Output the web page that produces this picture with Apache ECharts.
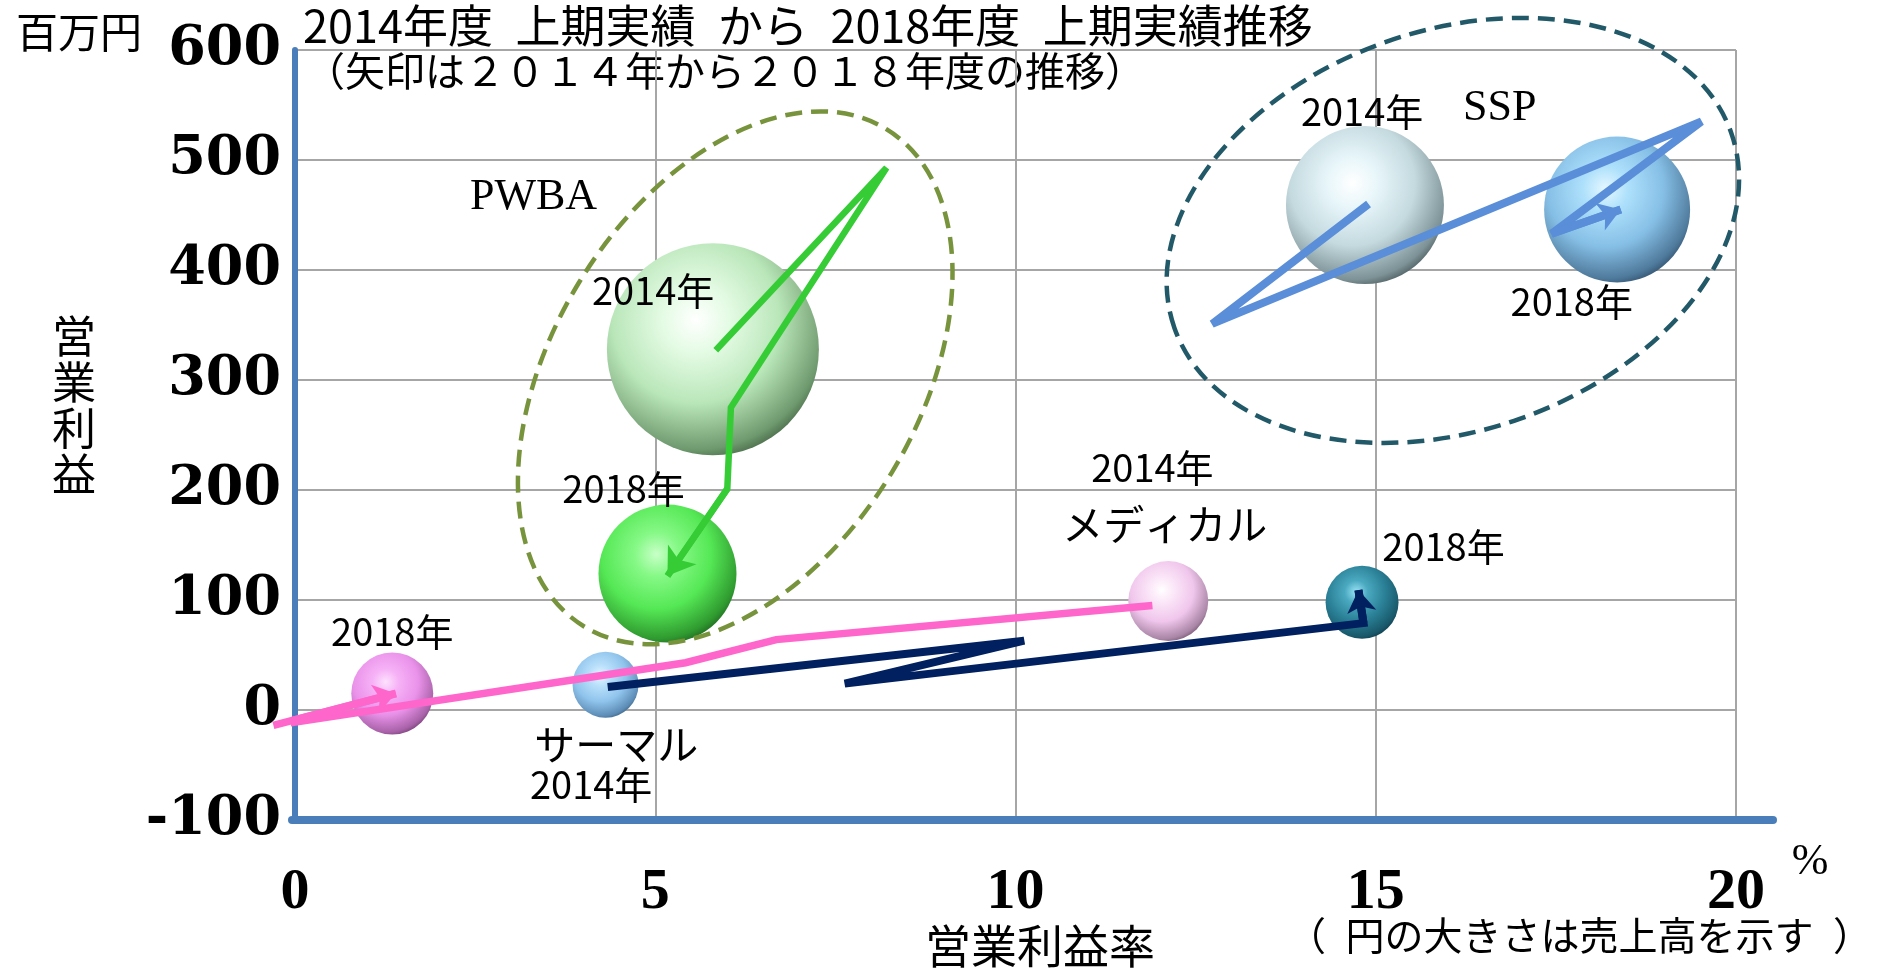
<!DOCTYPE html>
<html><head><meta charset="utf-8">
<script src="https://cdn.jsdelivr.net/npm/echarts@6/dist/echarts.min.js"></script>
<style>html,body{margin:0;padding:0;background:#fff}#c{width:1879px;height:968px}</style>
</head><body><div id="c"></div>
<script>
// ---- data ----
const xTicks = [0, 5, 10, 15, 20];
const yTicks = [-100, 0, 100, 200, 300, 400, 500, 600];

// yearly trajectories 2014 -> 2018 : [営業利益率 %, 営業利益 百万円]
const pwbaPath    = [[5.84, 327], [8.21, 493], [6.05, 275], [6.00, 201], [5.17, 122]];
const sspPath     = [[14.90, 460], [12.73, 351], [19.52, 535], [17.44, 433], [18.40, 455]];
const medicalPath = [[11.90, 95], [6.68, 64], [5.42, 43], [-0.30, -14], [1.40, 15]];
const thermalPath = [[4.34, 21], [10.12, 63], [7.63, 24], [14.83, 79], [14.76, 109]];

// bubbles (size = 売上高)
const bubbleNames = ['PWBA 2014', 'PWBA 2018', 'SSP 2014', 'SSP 2018', 'メディカル 2014', 'メディカル 2018', 'サーマル 2014', 'サーマル 2018'];
const bubbleX     = [5.80, 5.17, 14.85, 18.35, 12.12, 1.35, 4.31, 14.81];
const bubbleY     = [328, 124, 459, 455, 99, 15, 23, 98];
const bubbleSales = [212, 138, 158, 146, 80, 82, 66, 73];

// group outlines (centre in data units)
const groupNames = ['PWBA', 'SSP'];
const groupX = [6.11, 16.07];
const groupY = [302, 436];

// annotations
const annoText = ['PWBA', '2014年', '2018年', '2014年', 'SSP', '2018年', '2014年', 'メディカル', '2018年', '2018年', 'サーマル', '2014年'];
const annoX    = [3.31, 4.97, 4.56, 14.81, 16.72, 17.72, 11.90, 12.07, 15.94, 1.35, 4.46, 4.11];
const annoY    = [466, 381, 201, 544, 547, 371, 220, 169, 149, 71, -31, -68];
const annoKind = ['serif', 'year', 'year', 'year', 'serif', 'year', 'year', 'name', 'year', 'year', 'name', 'year'];

// ---- styles ----
const JP = '"Noto Sans CJK JP", "Noto Sans", sans-serif';
const bubbleColors = [
  ['#ffffff', '#e4fbe4', '#b9e6b9', '#6f9a6f', '#2f4a2f'],
  ['#c8ffc8', '#86f986', '#55e855', '#2f9a2f', '#174a17'],
  ['#ffffff', '#e8f6fa', '#c4dadf', '#7d9296', '#2c3a3c'],
  ['#e6f8ff', '#ade0fb', '#86bfe6', '#4f7a9c', '#213a52'],
  ['#ffffff', '#fbe6f8', '#f0c6ec', '#a985a6', '#5a3f58'],
  ['#fde2fd', '#f6b2f6', '#ea92ea', '#a862a8', '#5a2e5a'],
  ['#e6f6ff', '#b9e0fb', '#90c4ec', '#5d8db6', '#2e4e6c'],
  ['#9ae4f6', '#4aa9c0', '#2a8096', '#19586a', '#0a2e3a']
];
const pathStyles = [
  { data: pwbaPath, color: '#36cc36', width: 6.5, arrow: 26 },
  { data: sspPath, color: '#5a8ed8', width: 8, arrow: 22 },
  { data: medicalPath, color: '#ff66cc', width: 7.5, arrow: 22 },
  { data: thermalPath, color: '#002060', width: 8, arrow: 22 }
];
const ellipseStyles = [
  { rx: 291, ry: 183, rot: 58.8, color: '#77933c' },
  { rx: 295, ry: 200, rot: 19.3, color: '#215968' }
];
const annoFonts = {
  serif: '44px "Liberation Serif", serif',
  year: '38px ' + JP,
  name: '41px ' + JP
};

const chart = echarts.init(document.getElementById('c'), null, { renderer: 'canvas' });

const series = [];
series.push({
  type: 'scatter', z: 2, xAxisIndex: 0, yAxisIndex: 0,
  symbolSize: v => v[2],
  data: bubbleX.map((x, i) => ({
    name: bubbleNames[i],
    value: [x, bubbleY[i], bubbleSales[i]],
    itemStyle: {
      color: {
        type: 'radial', x: 0.42, y: 0.36, r: 0.72,
        colorStops: [
          { offset: 0, color: bubbleColors[i][0] },
          { offset: 0.22, color: bubbleColors[i][1] },
          { offset: 0.55, color: bubbleColors[i][2] },
          { offset: 0.85, color: bubbleColors[i][3] },
          { offset: 1, color: bubbleColors[i][4] }
        ]
      },
      opacity: 1
    }
  }))
});
series.push({
  type: 'custom', z: 3, xAxisIndex: 0, yAxisIndex: 0, clip: false,
  data: groupX.map((x, i) => ({ name: groupNames[i], value: [x, groupY[i]] })),
  renderItem: (params, api) => {
    const p = api.coord([api.value(0), api.value(1)]);
    const s = ellipseStyles[params.dataIndex];
    return {
      type: 'ellipse', x: p[0], y: p[1], rotation: s.rot * Math.PI / 180,
      shape: { cx: 0, cy: 0, rx: s.rx, ry: s.ry },
      style: { fill: null, stroke: s.color, lineWidth: 4.5, lineDash: [17, 9] }
    };
  }
});
pathStyles.forEach(ps => {
  series.push({
    type: 'line', z: 4, clip: false, showSymbol: false, symbol: 'none', smooth: false,
    data: ps.data,
    lineStyle: { color: ps.color, width: ps.width, join: 'miter', miterLimit: 2.5, cap: 'butt' }
  });
});
series.push({
  type: 'lines', coordinateSystem: 'cartesian2d', z: 5, clip: false,
  data: pathStyles.map(ps => ({
    coords: [ps.data[ps.data.length - 2], ps.data[ps.data.length - 1]],
    symbol: ['none', 'arrow'], symbolSize: [0, ps.arrow],
    lineStyle: { color: ps.color, width: ps.width }
  })),
  symbol: ['none', 'arrow'],
  lineStyle: { opacity: 1, curveness: 0 }
});
series.push({
  type: 'custom', z: 6, clip: false,
  data: annoText.map((t, i) => ({ name: t, value: [annoX[i], annoY[i]] })),
  renderItem: (params, api) => {
    const p = api.coord([api.value(0), api.value(1)]);
    const i = params.dataIndex;
    return {
      type: 'text', x: p[0], y: p[1],
      style: { text: annoText[i], font: annoFonts[annoKind[i]], fill: '#000', align: 'center', verticalAlign: 'middle' }
    };
  }
});

chart.setOption({
  animation: false,
  backgroundColor: '#fff',
  grid: [
    { left: 295, right: 143, top: 50, bottom: 148 },
    { left: 292, right: 106, top: 50, bottom: 148 }
  ],
  xAxis: [
    {
      type: 'value', gridIndex: 0, min: xTicks[0], max: xTicks[xTicks.length - 1], interval: 5,
      axisLine: { show: false }, axisTick: { show: false },
      splitLine: { show: true, lineStyle: { color: '#a6a6a6', width: 2 } },
      axisLabel: { margin: 44, color: '#000', fontFamily: '"Liberation Serif", serif', fontWeight: 'bold', fontSize: 58 }
    },
    {
      type: 'value', gridIndex: 1, min: 0, max: 1, position: 'bottom',
      axisLine: { show: true, onZero: false, lineStyle: { color: '#4a7ebb', width: 8 } },
      axisTick: { show: false }, axisLabel: { show: false }, splitLine: { show: false }
    }
  ],
  yAxis: [
    {
      type: 'value', gridIndex: 0, min: yTicks[0], max: yTicks[yTicks.length - 1], interval: 100,
      axisLine: { show: true, onZero: false, lineStyle: { color: '#4a7ebb', width: 6 } },
      axisTick: { show: false },
      splitLine: { show: true, lineStyle: { color: '#a6a6a6', width: 2 } },
      axisLabel: { margin: 14, color: '#000', fontFamily: '"DejaVu Serif", serif', fontWeight: 'bold', fontSize: 54 }
    },
    { type: 'value', gridIndex: 1, show: false }
  ],
  graphic: [
    { type: 'text', left: 303, top: 3, style: { text: '2014年度\u2002上期実績\u2002から\u20022018年度\u2002上期実績推移', font: '45px ' + JP, fill: '#000' } },
    { type: 'text', left: 305, top: 51, style: { text: '（矢印は２０１４年から２０１８年度の推移）', font: '40px ' + JP, fill: '#000' } },
    { type: 'text', left: 16, top: 11, style: { text: '百万円', font: '42px ' + JP, fill: '#000' } },
    { type: 'text', x: 74, y: 405, style: { text: '営\n業\n利\n益', font: '44px ' + JP, lineHeight: 46, align: 'center', verticalAlign: 'middle', fill: '#000' } },
    { type: 'text', x: 1040, y: 946, style: { text: '営業利益率', font: '46px ' + JP, align: 'center', verticalAlign: 'middle', fill: '#000' } },
    { type: 'text', x: 1287, y: 935, style: { text: '（\u2002円の大きさは売上高を示す\u2002）', font: '39px ' + JP, align: 'left', verticalAlign: 'middle', fill: '#000' } },
    { type: 'text', x: 1810, y: 862, style: { text: '%', font: '44px "Liberation Serif", serif', align: 'center', verticalAlign: 'middle', fill: '#000' } }
  ],
  series: series
});
</script>
</body></html>
